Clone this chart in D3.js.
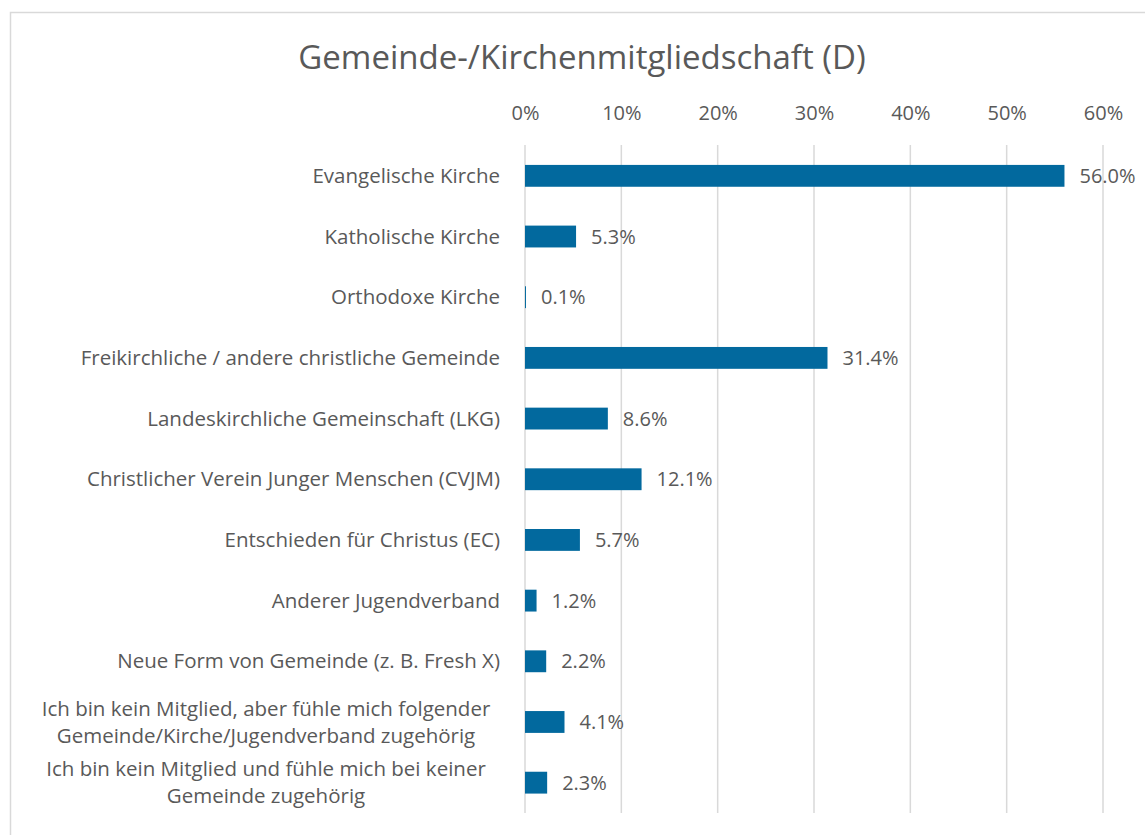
<!DOCTYPE html>
<meta charset="utf-8">
<style>
  body { margin: 0; background: #fff; }
  text { font-family: "Open Sans", Lato, sans-serif; fill: #595959; }
</style>
<script src="https://d3js.org/d3.v7.min.js"></script>
<svg id="chart" width="1145" height="835"></svg>
<script>
// data
var categories = [
  ["Evangelische Kirche"],
  ["Katholische Kirche"],
  ["Orthodoxe Kirche"],
  ["Freikirchliche / andere christliche Gemeinde"],
  ["Landeskirchliche Gemeinschaft (LKG)"],
  ["Christlicher Verein Junger Menschen (CVJM)"],
  ["Entschieden für Christus (EC)"],
  ["Anderer Jugendverband"],
  ["Neue Form von Gemeinde (z. B. Fresh X)"],
  ["Ich bin kein Mitglied, aber fühle mich folgender", "Gemeinde/Kirche/Jugendverband zugehörig"],
  ["Ich bin kein Mitglied und fühle mich bei keiner", "Gemeinde zugehörig"]
];
var values = [56.0, 5.3, 0.1, 31.4, 8.6, 12.1, 5.7, 1.2, 2.2, 4.1, 2.3];
var tickValues = [0, 10, 20, 30, 40, 50, 60];
var title = "Gemeinde-/Kirchenmitgliedschaft (D)";

var svg = d3.select("#chart");

// frame
svg.append("rect")
  .attr("x", 10.5).attr("y", 12.5)
  .attr("width", 1150).attr("height", 840)
  .attr("fill", "none").attr("stroke", "#d9d9d9").attr("stroke-width", 1.5);

svg.append("text")
  .attr("x", 582).attr("y", 69)
  .attr("text-anchor", "middle")
  .style("font-size", "33px")
  .text(title);

var x = d3.scaleLinear().domain([0, 60]).range([525, 1103]);
var y = d3.scaleBand().domain(d3.range(values.length)).range([145.5, 813]).paddingInner(0.64).paddingOuter(0.32);

// gridlines
svg.append("g").selectAll("line")
  .data(tickValues).enter().append("line")
  .attr("x1", function(d) { return x(d); })
  .attr("x2", function(d) { return x(d); })
  .attr("y1", 145).attr("y2", 813)
  .attr("stroke", "#d9d9d9").attr("stroke-width", 1.5);

// top axis labels
var axis = svg.append("g")
  .attr("transform", "translate(0,120)")
  .call(d3.axisTop(x).tickValues(tickValues).tickSize(0).tickPadding(0)
    .tickFormat(function(d) { return d + "%"; }));
axis.select(".domain").remove();
axis.selectAll("text").style("font-size", "20px").attr("fill", "#595959");

// bars
svg.append("g").selectAll("rect")
  .data(values).enter().append("rect")
  .attr("x", x(0))
  .attr("y", function(d, i) { return y(i); })
  .attr("width", function(d) { return x(d) - x(0); })
  .attr("height", y.bandwidth())
  .attr("fill", "#02699e");

// value labels
svg.append("g").selectAll("text")
  .data(values).enter().append("text")
  .attr("x", function(d) { return x(d) + 15; })
  .attr("y", function(d, i) { return y(i) + y.bandwidth() / 2; })
  .attr("dy", "0.35em")
  .style("font-size", "20px")
  .text(function(d) { return d.toFixed(1) + "%"; });

// category labels
var lab = svg.append("g").selectAll("text")
  .data(categories).enter().append("text")
  .attr("x", 500)
  .attr("y", function(d, i) { return y(i) + y.bandwidth() / 2; })
  .attr("text-anchor", "end")
  .style("font-size", "20.5px");
lab.each(function(d) {
  var t = d3.select(this);
  var lh = 27;
  d.forEach(function(line, k) {
    t.append("tspan")
      .attr("x", d.length > 1 ? 266 : 500)
      .attr("text-anchor", d.length > 1 ? "middle" : "end")
      .attr("dy", k === 0 ? (0.35 - (d.length - 1) * 0.66) + "em" : lh + "px")
      .text(line);
  });
});
</script>
